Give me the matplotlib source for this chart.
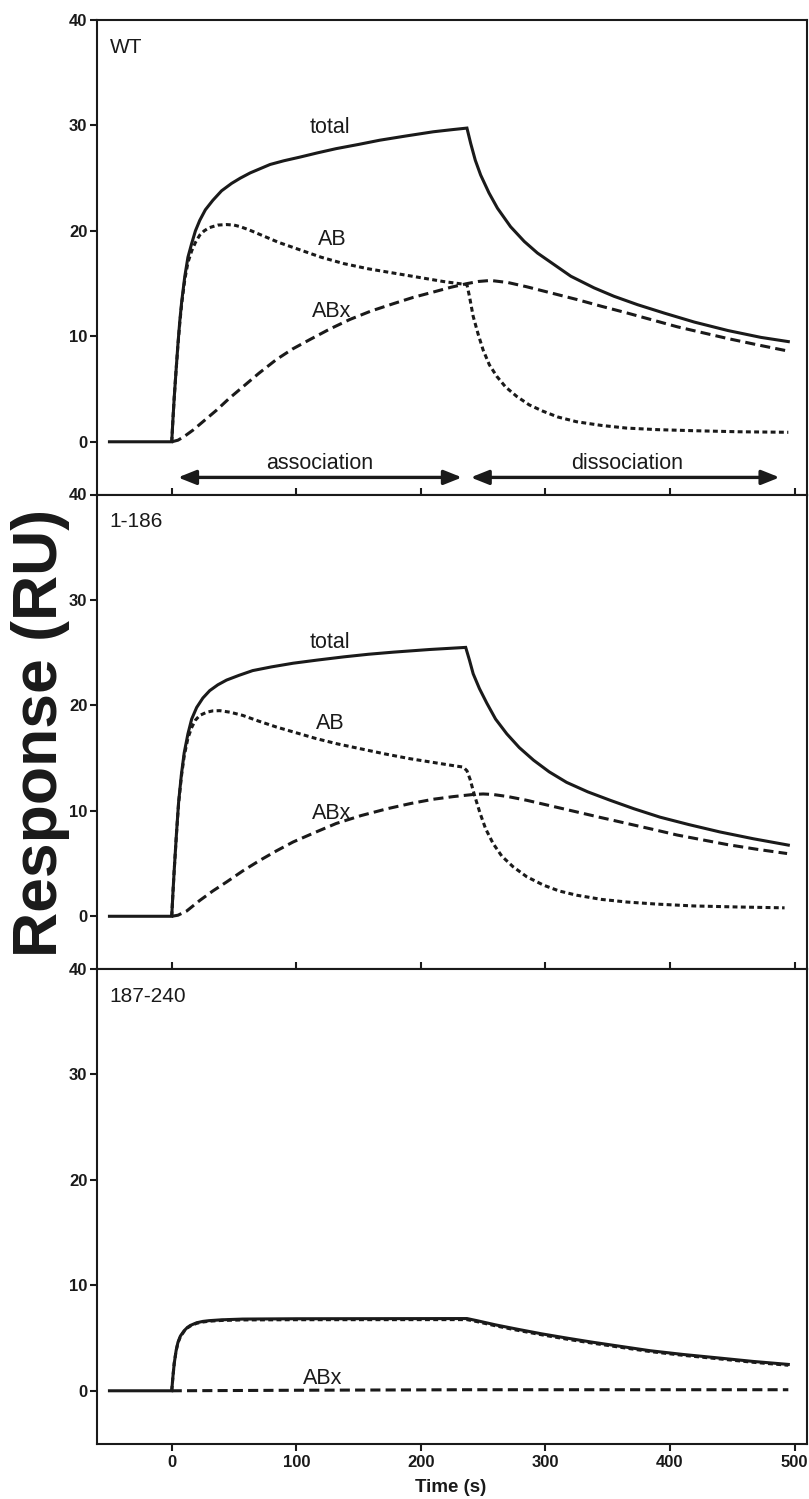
import matplotlib
matplotlib.use("Agg")
import matplotlib.pyplot as plt

plt.rcParams['font.family'] = ['Liberation Sans', 'DejaVu Sans']

# ---------------- data ----------------
panel_names = ["WT", "1-186", "187-240"]

# WT
wt_total_t = [-50, 0, 1, 2, 3.5, 5, 6.5, 8, 10.5, 13, 16, 19, 22.5, 27, 33, 40, 48, 55, 63, 79, 90, 103,
              117, 132, 150, 167, 188, 210, 225, 237,
              240, 243.7, 248, 254.7, 261.5, 272, 283, 293.6, 307, 320.4, 339, 355, 374, 395.5,
              419.6, 446.5, 473, 495]
wt_total_v = [0, 0, 2.2, 4.2, 6.8, 9.3, 11.5, 13.3, 15.7, 17.5, 18.8, 20.0, 21.0, 22.0, 22.9, 23.8, 24.5, 25.0,
              25.5, 26.3, 26.65, 27.0, 27.4, 27.8, 28.2, 28.6, 29.0, 29.4, 29.6, 29.75,
              28.3, 26.7, 25.3, 23.6, 22.15, 20.4, 19.0, 17.9, 16.8, 15.7, 14.6, 13.8, 13.0, 12.2,
              11.35, 10.55, 9.9, 9.5]
wt_ab_t = [0, 1, 2, 3.5, 5, 6.5, 8, 10.5, 13, 16, 19, 22.5, 26, 30, 37, 44, 50, 55, 62, 70, 86, 103, 120,
           138, 158, 178, 198, 218, 237,
           239, 242, 246, 250, 255, 261, 268, 277, 287, 298, 310, 325, 345, 365, 390, 419, 455, 495]
wt_ab_v = [0, 2.2, 4.2, 6.8, 9.2, 11.3, 13.1, 15.4, 17.0, 18.1, 18.9, 19.6, 20.0, 20.3, 20.55, 20.6, 20.55,
           20.4, 20.1, 19.7, 18.9, 18.2, 17.5, 16.9, 16.4, 16.0, 15.6, 15.2, 14.9,
           13.8, 11.9, 10.2, 8.7, 7.3, 6.2, 5.2, 4.3, 3.5, 2.9, 2.35, 1.9, 1.55, 1.3, 1.15, 1.05, 0.95, 0.9]
wt_abx_t = [0, 5, 10, 17, 26, 36, 46, 57, 70, 84, 97, 111, 127, 143, 160, 178, 194, 210, 224, 237,
            246, 256, 270, 285, 305, 325, 345, 366, 386, 406, 426, 446, 470, 495]
wt_abx_v = [0, 0.15, 0.5, 1.1, 2.0, 3.0, 4.1, 5.2, 6.5, 7.8, 8.8, 9.7, 10.7, 11.6, 12.4, 13.1, 13.7, 14.2,
            14.65, 15.0, 15.2, 15.3, 15.1, 14.7, 14.1, 13.5, 12.85, 12.2, 11.55, 10.9, 10.35, 9.8, 9.2, 8.6]

# 1-186
m1_total_t = [-50, 0, 1, 2, 3.8, 5.5, 7.8, 10, 13, 16, 20, 25, 30.5, 37, 44, 54, 65, 80, 97.5, 117, 138,
              158, 178, 207, 236,
              239, 242, 247, 253, 260, 269, 279, 290.5, 303, 317, 334, 352, 371, 392, 415, 440, 467, 495]
m1_total_v = [0, 0, 2.3, 4.4, 7.85, 10.8, 13.5, 15.5, 17.3, 18.7, 19.8, 20.7, 21.4, 21.95, 22.4, 22.85,
              23.3, 23.65, 24.0, 24.3, 24.6, 24.85, 25.05, 25.3, 25.5,
              24.3, 23.0, 21.6, 20.2, 18.7, 17.3, 16.0, 14.8, 13.7, 12.7, 11.8, 11.0, 10.2, 9.4, 8.7,
              8.0, 7.35, 6.75]
m1_ab_t = [0, 1, 2, 3.8, 5.5, 7.8, 10, 13, 16, 19, 22.5, 28, 33, 38.6, 47, 57, 70, 84, 100, 116, 133, 151,
           171, 191, 212, 228, 234, 237,
           239.5, 243, 247.6, 252, 258, 265, 274, 285, 298.5, 311, 325, 345, 365.5, 390, 419, 455, 492]
m1_ab_v = [0, 2.3, 4.4, 7.8, 10.7, 13.3, 15.2, 16.9, 17.9, 18.6, 19.05, 19.35, 19.48, 19.5, 19.35, 19.05,
           18.5, 17.95, 17.4, 16.85, 16.35, 15.9, 15.4, 14.95, 14.55, 14.25, 14.15, 13.8,
           13.0, 11.5, 9.75, 8.3, 6.9, 5.7, 4.7, 3.75, 2.95, 2.4, 2.0, 1.6, 1.35, 1.15, 0.98, 0.88, 0.8]
m1_abx_t = [0, 5, 12, 22.5, 33, 44, 57, 70.7, 84, 97.5, 115, 132, 152, 173, 192, 210, 226, 242, 250, 258,
            270, 285, 305, 325, 345, 365.5, 386, 406, 426, 446, 470, 494]
m1_abx_v = [0, 0.1, 0.5, 1.5, 2.4, 3.25, 4.3, 5.3, 6.2, 7.05, 7.95, 8.8, 9.55, 10.2, 10.7, 11.1, 11.35,
            11.55, 11.6, 11.55, 11.35, 11.0, 10.45, 9.9, 9.35, 8.8, 8.25, 7.7, 7.25, 6.8, 6.35, 5.95]

# 187-240
m2_total_t = [-50, 0, 1, 2, 3.5, 5, 7, 10, 12.5, 15, 20, 25, 30, 40, 57, 100, 237,
              245, 260, 277, 297, 317, 337, 357, 384, 410, 440, 467, 495]
m2_total_v = [0, 0, 1.4, 2.6, 3.8, 4.6, 5.2, 5.7, 6.0, 6.2, 6.45, 6.58, 6.65, 6.73, 6.8, 6.83, 6.85,
              6.65, 6.25, 5.85, 5.4, 5.0, 4.62, 4.27, 3.8, 3.45, 3.1, 2.78, 2.5]
m2_ab_t = [0, 1, 2, 3.5, 5, 7, 10, 12.5, 15, 20, 25, 30, 40, 57, 100, 237,
           245, 260, 277, 297, 317, 337, 357, 384, 410, 440, 467, 495]
m2_ab_v = [0, 1.4, 2.6, 3.8, 4.55, 5.15, 5.65, 5.95, 6.15, 6.4, 6.52, 6.6, 6.67, 6.72, 6.74, 6.75,
           6.56, 6.16, 5.75, 5.31, 4.9, 4.53, 4.18, 3.72, 3.37, 3.02, 2.7, 2.42]
m2_abx_t = [0, 100, 237, 495]
m2_abx_v = [0, 0.05, 0.1, 0.1]

x_ticks = [0, 100, 200, 300, 400, 500]
y_ticks = [0, 10, 20, 30, 40]

# ---------------- figure ----------------
W, H = 809, 1499
fig = plt.figure(figsize=(W / 100, H / 100), dpi=100)

left = 97 / W
right = 807 / W
tops = [20, 494.5, 969]
ph = 474.5
col = '#1a1a1a'
lw = 2.2

series = [
    (wt_total_t, wt_total_v, wt_ab_t, wt_ab_v, wt_abx_t, wt_abx_v),
    (m1_total_t, m1_total_v, m1_ab_t, m1_ab_v, m1_abx_t, m1_abx_v),
    (m2_total_t, m2_total_v, m2_ab_t, m2_ab_v, m2_abx_t, m2_abx_v),
]

axes = []
for i, top in enumerate(tops):
    ax = fig.add_axes([left, 1 - (top + ph) / H, right - left, ph / H])
    axes.append(ax)
    tt, tv, at, av, xt, xv = series[i]
    ax.plot(xt, xv, color=col, lw=lw, linestyle=(0, (3.3, 1.7)), dash_capstyle='butt')
    ax.plot(at, av, color=col, lw=lw, linestyle=(0, (1.6, 1.1)), dash_capstyle='butt')
    ax.plot(tt, tv, color=col, lw=lw, solid_joinstyle='miter')
    ax.set_xlim(-60, 510)
    ax.set_ylim(-5, 40)
    ax.set_yticks(y_ticks)
    ax.set_xticks(x_ticks)
    for s in ax.spines.values():
        s.set_linewidth(1.5)
        s.set_color(col)
    ax.tick_params(axis='y', direction='out', length=5, width=1.5, pad=2,
                   labelsize=12, colors=col)
    for lab in ax.get_yticklabels():
        lab.set_fontweight('bold')
    if i < 2:
        ax.tick_params(axis='x', direction='in', length=5, width=1.5, labelbottom=False, colors=col)
    else:
        ax.tick_params(axis='x', direction='out', length=5, width=1.5, pad=3,
                       labelsize=12, colors=col)
        for lab in ax.get_xticklabels():
            lab.set_fontweight('bold')
    ax.text(-50, 37.4, panel_names[i], fontsize=15, color=col, ha='left', va='center')

# curve labels
axes[0].text(127, 29.8, "total", fontsize=15.5, color=col, ha='center', va='center')
axes[0].text(128.5, 19.2, "AB", fontsize=15.5, color=col, ha='center', va='center')
axes[0].text(128.5, 12.4, "ABx", fontsize=15.5, color=col, ha='center', va='center')
axes[1].text(127, 26.0, "total", fontsize=15.5, color=col, ha='center', va='center')
axes[1].text(127.5, 18.3, "AB", fontsize=15.5, color=col, ha='center', va='center')
axes[1].text(128, 9.7, "ABx", fontsize=15.5, color=col, ha='center', va='center')
axes[2].text(121, 1.15, "ABx", fontsize=15.5, color=col, ha='center', va='center')

# phase arrows
ap = dict(arrowstyle='<|-|>,head_length=0.4,head_width=0.16', lw=2.4, color=col,
          mutation_scale=27, shrinkA=0, shrinkB=0)
axes[0].annotate('', xy=(5, -3.38), xytext=(233, -3.38), arrowprops=ap)
axes[0].annotate('', xy=(240, -3.38), xytext=(488, -3.38), arrowprops=ap)
axes[0].text(119, -2.1, "association", fontsize=15.5, color=col, ha='center', va='center')
axes[0].text(365.5, -2.05, "dissociation", fontsize=15.5, color=col, ha='center', va='center')

fig.text(41 / W, 1 - 733 / H, "Response (RU)", rotation=90, fontsize=45, fontweight='bold',
         color=col, ha='center', va='center')
fig.text(451 / W, 1 - 1487 / H, "Time (s)", fontsize=13.5, fontweight='bold',
         color=col, ha='center', va='center')

fig.savefig("out.png", dpi=100)
